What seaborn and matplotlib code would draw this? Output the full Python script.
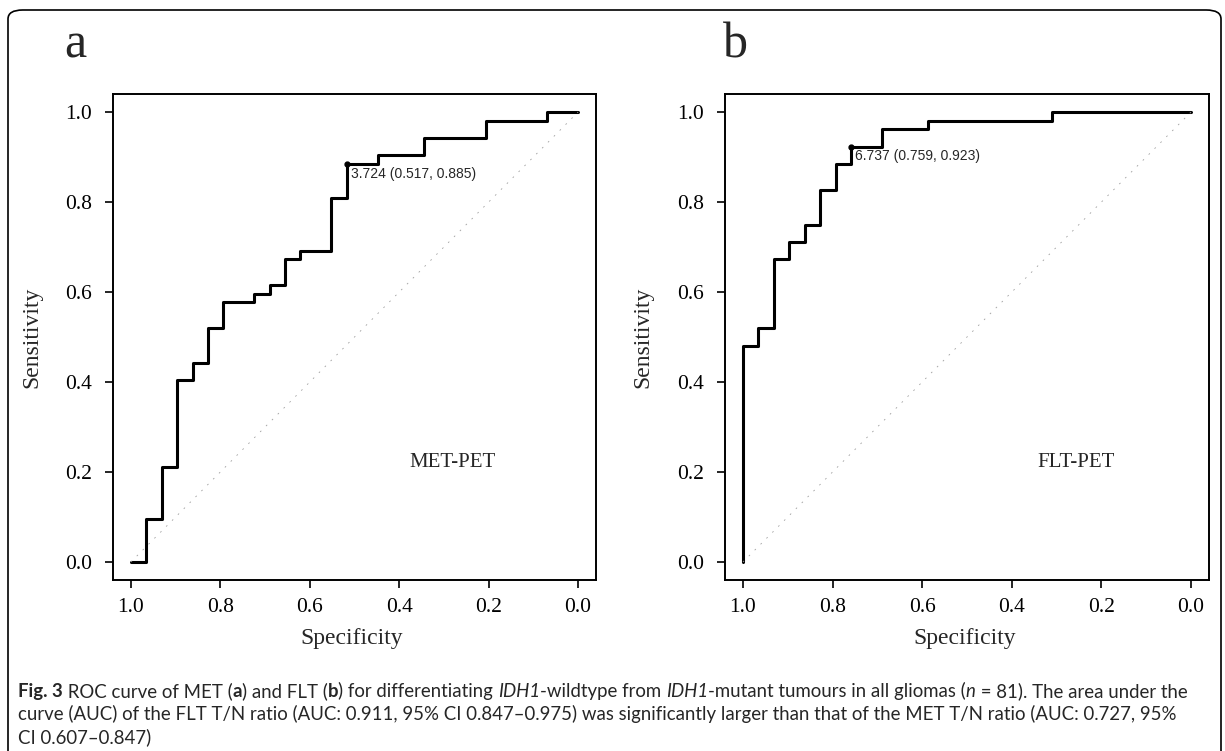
import numpy as np
import pandas as pd
import seaborn as sns
import matplotlib.pyplot as plt
from matplotlib.patches import FancyBboxPatch

# ROC corner points (specificity, sensitivity)
met_spec = [1.0, 0.966, 0.966, 0.931, 0.931, 0.897, 0.897, 0.862, 0.862, 0.828, 0.828,
            0.793, 0.793, 0.724, 0.724, 0.690, 0.690, 0.655, 0.655, 0.621, 0.621, 0.552,
            0.552, 0.517, 0.517, 0.448, 0.448, 0.345, 0.345, 0.207, 0.207, 0.069, 0.069, 0.0]
met_sens = [0.0, 0.0, 0.096, 0.096, 0.212, 0.212, 0.404, 0.404, 0.442, 0.442, 0.519,
            0.519, 0.577, 0.577, 0.596, 0.596, 0.615, 0.615, 0.673, 0.673, 0.692, 0.692,
            0.808, 0.808, 0.885, 0.885, 0.904, 0.904, 0.942, 0.942, 0.981, 0.981, 1.0, 1.0]

flt_spec = [1.0, 1.0, 0.966, 0.966, 0.931, 0.931, 0.897, 0.897, 0.862, 0.862, 0.828,
            0.828, 0.793, 0.793, 0.759, 0.759, 0.690, 0.690, 0.586, 0.586, 0.310, 0.310, 0.0]
flt_sens = [0.0, 0.481, 0.481, 0.519, 0.519, 0.673, 0.673, 0.712, 0.712, 0.750, 0.750,
            0.827, 0.827, 0.885, 0.885, 0.923, 0.923, 0.962, 0.962, 0.981, 0.981, 1.0, 1.0]

panel_letters = ["a", "b"]
panel_names = ["MET-PET", "FLT-PET"]
cutoffs = [(3.724, 0.517, 0.885), (6.737, 0.759, 0.923)]
ticks = [1.0, 0.8, 0.6, 0.4, 0.2, 0.0]
tick_labels = ["1.0", "0.8", "0.6", "0.4", "0.2", "0.0"]

caption_lines = [
    [("Fig. 3", "bold"), (" ROC curve of MET (", "normal"), ("a", "bold"), (") and FLT (", "normal"),
     ("b", "bold"), (") for differentiating ", "normal"), ("IDH1", "italic"),
     ("-wildtype from ", "normal"), ("IDH1", "italic"),
     ("-mutant tumours in all gliomas (", "normal"), ("n", "italic"),
     (" = 81). The area under the", "normal")],
    [("curve (AUC) of the FLT T/N ratio (AUC: 0.911, 95% CI 0.847\u20130.975) was significantly "
      "larger than that of the MET T/N ratio (AUC: 0.727, 95%", "normal")],
    [("CI 0.607\u20130.847)", "normal")],
]

sns.set_style("white")
plt.rcParams["font.family"] = ["Liberation Serif", "DejaVu Serif"]

fig = plt.figure(figsize=(12.25, 7.51), dpi=100)
W, H = 1225, 751

# panel frames in pixels: left, right, top, bottom
boxes = [(113, 596, 94, 580), (725, 1209, 94, 580)]
curves = [(met_spec, met_sens), (flt_spec, flt_sens)]
name_pos = [(0.281, 0.222), (0.256, 0.222)]
letter_pos = [(75, 58), (735, 58)]

for i in range(2):
    l, r, t, b = boxes[i]
    ax = fig.add_axes([l / W, (H - b) / H, (r - l) / W, (b - t) / H])
    df = pd.DataFrame({"spec": curves[i][0], "sens": curves[i][1]})
    sns.lineplot(data=df, x="spec", y="sens", sort=False, estimator=None,
                 color="black", lw=2.2, ax=ax)
    diag = pd.DataFrame({"spec": [1.0, 0.0], "sens": [0.0, 1.0]})
    sns.lineplot(data=diag, x="spec", y="sens", sort=False, estimator=None, color="#a0a0a0",
                 lw=0.6, linestyle=(0, (2, 8)), ax=ax)

    thr, sp, se = cutoffs[i]
    ax.plot([sp], [se], "o", color="black", ms=3.5)
    ax.annotate(f"{thr:.3f} ({sp:.3f}, {se:.3f})", xy=(sp, se), xytext=(3, -2),
                textcoords="offset points", ha="left", va="top", fontsize=10,
                family=["Liberation Sans", "DejaVu Sans"])
    ax.text(name_pos[i][0], name_pos[i][1], panel_names[i], ha="center", va="center", fontsize=15)

    ax.set_xlim(1.04, -0.04)
    ax.set_ylim(-0.04, 1.04)
    ax.set_xticks(ticks)
    ax.set_xticklabels(tick_labels)
    ax.set_yticks(ticks[::-1])
    ax.set_yticklabels(tick_labels[::-1])
    ax.tick_params(direction="out", length=6, width=1.2, labelsize=15.5, pad=7,
                   bottom=True, left=True, colors="black")
    ax.tick_params(axis="y", pad=9)
    for s in ax.spines.values():
        s.set_visible(True)
        s.set_color("black")
        s.set_linewidth(1.4)
    ax.set_xlabel("Specificity", fontsize=17)
    ax.set_ylabel("Sensitivity", fontsize=17)
    ax.xaxis.set_label_coords(0.495, -0.099)
    ax.yaxis.set_label_coords(-0.147, 0.5)

    fig.text(letter_pos[i][0] / W, 1 - letter_pos[i][1] / H, panel_letters[i],
             fontsize=36, ha="center", va="baseline")

# outer rounded frame
frame = FancyBboxPatch((8 / W, -0.1), (1221 - 8) / W, 1 - 10 / H + 0.1,
                       boxstyle="round,pad=0,rounding_size=0.012", transform=fig.transFigure,
                       fill=False, edgecolor="black", lw=1.2, clip_on=False)
fig.patches.append(frame)

# caption, drawn piece by piece so bold/italic runs line up
renderer = fig.canvas.get_renderer()
cap_font = ["Lato", "DejaVu Sans"]
line_y = [697, 720, 743]
for row, pieces in enumerate(caption_lines):
    x = 18
    for txt, style in pieces:
        kw = {"fontweight": "bold"} if style == "bold" else {}
        if style == "italic":
            kw = {"fontstyle": "italic"}
        t = fig.text(x / W, 1 - line_y[row] / H, txt, fontsize=13.4, family=cap_font,
                     ha="left", va="baseline", **kw)
        bb = t.get_window_extent(renderer=renderer)
        x += bb.width

fig.savefig("out.png", dpi=100)
